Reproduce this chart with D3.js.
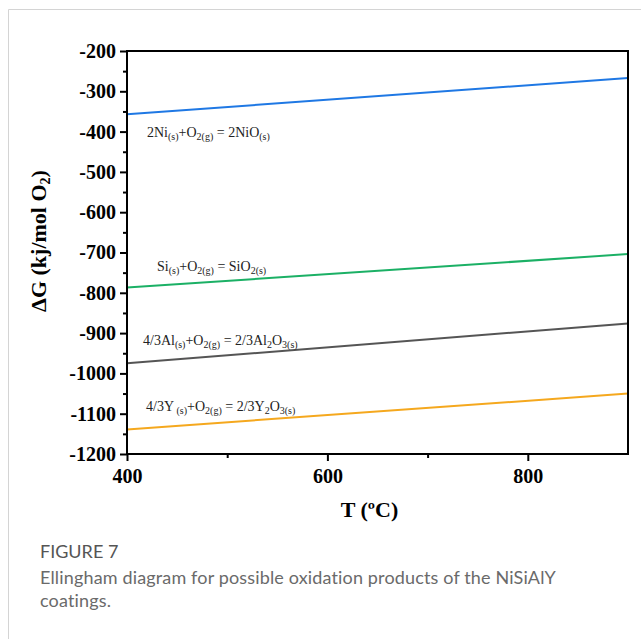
<!DOCTYPE html>
<html>
<head>
<meta charset="utf-8">
<script src="https://cdn.jsdelivr.net/npm/d3@7"></script>
<style>
  body { margin: 0; background: #fff; }
  svg { display: block; }
</style>
</head>
<body>
<div id="chart"></div>
<script>
// Ellingham diagram, FIGURE 7

const temperature = [400, 900];
const dgNi = [-357, -267];
const dgSi = [-787, -704];
const dgAl = [-975, -876];
const dgY = [-1139, -1050];

const yTicks = [-200, -300, -400, -500, -600, -700, -800, -900, -1000, -1100, -1200];
const yMinorTicks = [-250, -350, -450, -550, -650, -750, -850, -950, -1050, -1150];
const xTicks = [400, 600, 800];
const xMinorTicks = [500, 700];

// label text pieces: [text, isSubscript]
const reactions = [
  { values: dgNi, color: '#1f78e4', at: [147, 137],
    label: [['2Ni', 0], ['(s)', 1], ['+O', 0], ['2(g)', 1], [' = 2NiO', 0], ['(s)', 1]] },
  { values: dgSi, color: '#1bb065', at: [157, 271],
    label: [['Si', 0], ['(s)', 1], ['+O', 0], ['2(g)', 1], [' = SiO', 0], ['2(s)', 1]] },
  { values: dgAl, color: '#555555', at: [143, 345],
    label: [['4/3Al', 0], ['(s)', 1], ['+O', 0], ['2(g)', 1], [' = 2/3Al', 0], ['2', 1], ['O', 0], ['3(s)', 1]] },
  { values: dgY, color: '#f5a81e', at: [146, 411],
    label: [['4/3Y', 0], [' (s)', 1], ['+O', 0], ['2(g)', 1], [' = 2/3Y', 0], ['2', 1], ['O', 0], ['3(s)', 1]] },
];

const W = 641;
const H = 639;
const plot = { left: 127, right: 628, top: 51, bottom: 454 };

const svg = d3.select('#chart').append('svg')
  .attr('width', W)
  .attr('height', H);

// card border (top + left)
svg.append('path')
  .attr('d', `M8.5,${H} V9.5 H${W}`)
  .attr('fill', 'none')
  .attr('stroke', '#d4d4d4')
  .attr('stroke-width', 1);

const x = d3.scaleLinear().domain([400, 900]).range([plot.left, plot.right]);
const y = d3.scaleLinear().domain([-200, -1200]).range([plot.top, plot.bottom]);

const serif = '"Liberation Serif", "Times New Roman", serif';

// lines
const line = d3.line()
  .x((d, i) => x(temperature[i]))
  .y(d => y(d));

reactions.forEach(r => {
  svg.append('path')
    .datum(r.values)
    .attr('d', line)
    .attr('fill', 'none')
    .attr('stroke', r.color)
    .attr('stroke-width', 2);

  const t = svg.append('text')
    .attr('x', r.at[0])
    .attr('y', r.at[1])
    .attr('font-family', serif)
    .attr('font-size', 14)
    .attr('fill', '#222');
  // subscripts drop 3px, back up when normal text resumes
  let prevSub = false;
  r.label.forEach(p => {
    const sub = p[1];
    let dy = 0;
    if (sub && !prevSub) dy = 3;
    if (!sub && prevSub) dy = -3;
    const s = t.append('tspan').text(p[0]).attr('dy', dy);
    if (sub) s.attr('font-size', 10);
    prevSub = sub;
  });
});

// axes
const axisG = svg.append('g');

axisG.append('g')
  .attr('transform', `translate(${plot.left},0)`)
  .call(d3.axisLeft(y).tickValues(yMinorTicks).tickSize(4).tickFormat(''));
axisG.append('g')
  .attr('transform', `translate(${plot.left},0)`)
  .call(d3.axisLeft(y).tickValues(yTicks).tickSize(7).tickPadding(4)
    .tickFormat(d => d));
axisG.append('g')
  .attr('transform', `translate(0,${plot.bottom})`)
  .call(d3.axisBottom(x).tickValues(xMinorTicks).tickSize(4).tickFormat(''));
axisG.append('g')
  .attr('transform', `translate(0,${plot.bottom})`)
  .call(d3.axisBottom(x).tickValues(xTicks).tickSize(7).tickPadding(8));

axisG.selectAll('.domain').remove();
axisG.selectAll('line').attr('stroke', '#000').attr('stroke-width', 2);
axisG.selectAll('text')
  .attr('font-family', serif)
  .attr('font-weight', 'bold')
  .attr('font-size', 20)
  .attr('fill', '#000');

// frame
svg.append('rect')
  .attr('x', plot.left)
  .attr('y', plot.top)
  .attr('width', plot.right - plot.left)
  .attr('height', plot.bottom - plot.top)
  .attr('fill', 'none')
  .attr('stroke', '#000')
  .attr('stroke-width', 2);

// axis titles
svg.append('text')
  .attr('x', (plot.left + plot.right) / 2 - 8)
  .attr('y', 517)
  .attr('text-anchor', 'middle')
  .attr('font-family', serif)
  .attr('font-weight', 'bold')
  .attr('font-size', 22)
  .text('T (ºC)');

const yt = svg.append('text')
  .attr('transform', 'translate(46,241) rotate(-90)')
  .attr('text-anchor', 'middle')
  .attr('font-family', serif)
  .attr('font-weight', 'bold')
  .attr('font-size', 22);
yt.append('tspan').text('ΔG (kj/mol O');
yt.append('tspan').text('2').attr('font-size', 14).attr('dy', 4);
yt.append('tspan').text(')').attr('dy', -4);

// caption
const sans = 'Lato, "Open Sans", sans-serif';
svg.append('text')
  .attr('x', 40)
  .attr('y', 558)
  .attr('font-family', sans)
  .attr('font-size', 18)
  .attr('fill', '#555')
  .text('FIGURE 7');
svg.append('text')
  .attr('x', 40)
  .attr('y', 584)
  .attr('font-family', sans)
  .attr('font-size', 18)
  .attr('letter-spacing', 0.15)
  .attr('fill', '#6a6a6a')
  .text('Ellingham diagram for possible oxidation products of the NiSiAlY');
svg.append('text')
  .attr('x', 40)
  .attr('y', 607)
  .attr('font-family', sans)
  .attr('font-size', 18)
  .attr('letter-spacing', 0.15)
  .attr('fill', '#6a6a6a')
  .text('coatings.');
</script>
</body>
</html>
